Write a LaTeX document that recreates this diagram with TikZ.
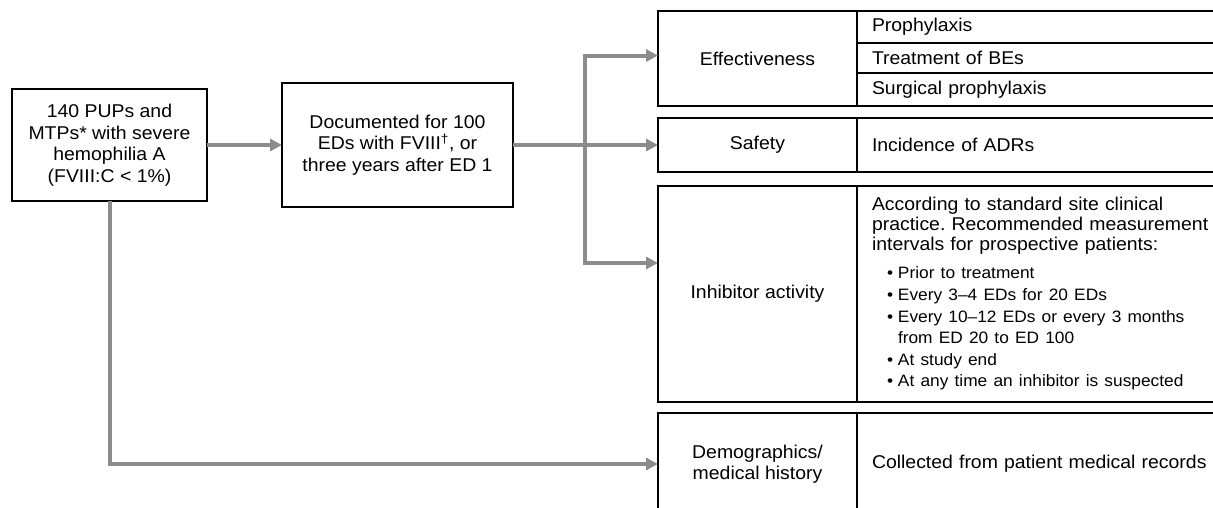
\documentclass[tikz,border=0pt]{standalone}
\usepackage{fontspec}
\setmainfont{Liberation Sans}[FakeStretch=1.05]
\usepackage{xcolor}
\usetikzlibrary{arrows.meta}

\definecolor{flowgray}{RGB}{140,140,140}
\newcommand{\bitem}[1]{\hspace*{15pt}\makebox[11pt][l]{•}#1}

\tikzset{
  stagebox/.style={draw, line width=2pt, inner sep=0pt, outer sep=0pt, anchor=north west, align=center},
  lcell/.style={stagebox, minimum width=199pt},
  rcell/.style={draw, line width=2pt, inner xsep=15pt, inner ysep=0pt, outer sep=0pt, anchor=north west,
    minimum width=400pt, text width=370pt, align=left},
  flow/.style={draw=flowgray, line width=4pt, -{Triangle[length=12pt,width=12pt]}}
}

\begin{document}
\frenchspacing
\begin{tikzpicture}[x=1pt, y=-1pt, font=\fontsize{18.5}{21.5}\selectfont]
\clip (0,0) rectangle (1213,507);

% Patients and documentation
\node[stagebox, minimum width=195pt, minimum height=112pt] (pups) at (12,89) {140 PUPs and\\MTPs* with severe\\hemophilia A\\(FVIII:C < 1\%)};
\node[stagebox, minimum width=231pt, minimum height=124pt] (docs) at (282,83) {Documented for 100\\EDs with FVIII\textsuperscript{†}, or\\three years after ED 1};

% Effectiveness
\node[lcell, minimum height=95pt] (eff) at (658,11) {Effectiveness};
\node[rcell, minimum height=32pt] (proph) at (857,11) {Prophylaxis};
\node[rcell, minimum height=30pt] (treat) at (857,43) {Treatment of BEs};
\node[rcell, minimum height=33pt] (surg) at (857,73) {Surgical prophylaxis};

% Safety
\node[lcell, minimum height=54pt] (safe) at (658,118) {Safety};
\node[rcell, minimum height=54pt] (adr) at (857,118) {Incidence of ADRs};

% Inhibitor activity
\node[lcell, minimum height=216pt] (inh) at (658,186) {Inhibitor activity};
\node[rcell, minimum height=216pt] (inhtxt) at (857,186) {\fontsize{18.5}{20}\selectfont
  According to standard site clinical\\
  practice. Recommended measurement\\
  intervals for prospective patients:\par\vspace{6pt}
  \fontsize{16.5}{21.7}\selectfont
  \bitem{Prior to treatment}\\
  \bitem{Every 3–4 EDs for 20 EDs}\\
  \bitem{Every 10–12 EDs or every 3 months}\\
  \hspace*{26pt}from ED 20 to ED 100\\
  \bitem{At study end}\\
  \bitem{At any time an inhibitor is suspected}};

% Demographics
\node[lcell, minimum height=102pt] (demo) at (658,413) {Demographics/\\medical history};
\node[rcell, minimum height=102pt] (demotxt) at (857,413) {Collected from patient medical records};

% Connectors
\coordinate (bus) at (585,145);
\draw[flow] (pups.east) -- (pups.east -| docs.west);
\draw[flow] (docs.east |- safe.west) -- (safe.west);
\draw[flow] (bus) |- ([yshift=3pt]eff.west);
\draw[flow] (bus) |- ([yshift=31pt]inh.west);
\draw[flow] (pups.south) |- (demo.west);
\end{tikzpicture}
\end{document}
